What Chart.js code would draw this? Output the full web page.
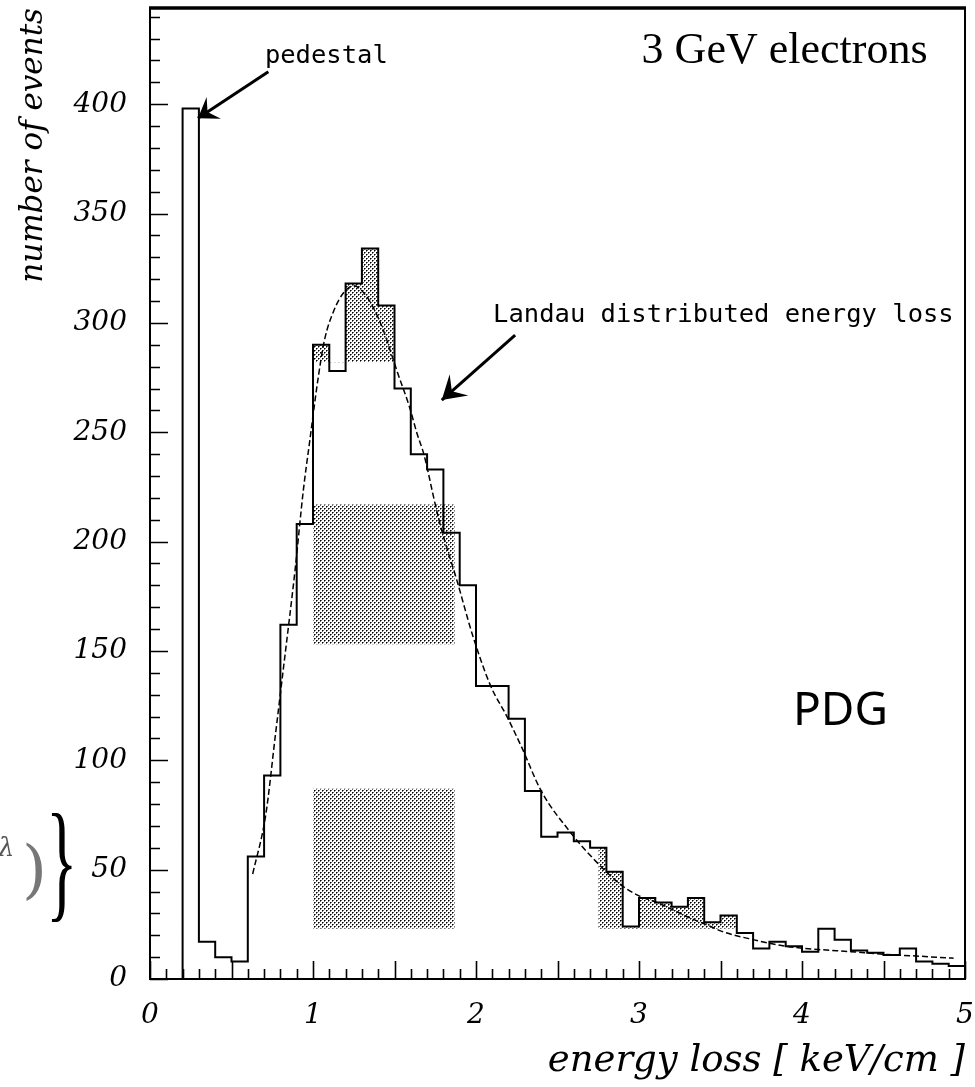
<!DOCTYPE html>
<html>
<head>
<meta charset="utf-8">
<script src="https://cdn.jsdelivr.net/npm/chart.js@4/dist/chart.umd.min.js"></script>
<style>
html,body{margin:0;padding:0;background:#fff;}
canvas{display:block;}
</style>
</head>
<body>
<canvas id="c" width="975" height="1087"></canvas>
<script>
// ---- data ----
const binLow = [0.0,0.1,0.2,0.3,0.4,0.5,0.6,0.7,0.8,0.9,
                1.0,1.1,1.2,1.3,1.4,1.5,1.6,1.7,1.8,1.9,
                2.0,2.1,2.2,2.3,2.4,2.5,2.6,2.7,2.8,2.9,
                3.0,3.1,3.2,3.3,3.4,3.5,3.6,3.7,3.8,3.9,
                4.0,4.1,4.2,4.3,4.4,4.5,4.6,4.7,4.8,4.9];
const counts = [0,0,398,17,10,8,56,93,162,208,
                290,278,318,334,308,270,240,233,204,180,
                134,134,119,86,65,67,63,60,49,24,
                37,35,33,37,26,29,21,14,17,15,
                12.5,23,18,13,12,11,14,8,7,6];
const landauX = [0.63,0.71,0.77,0.82,0.89,0.94,0.98,1.03,1.07,1.13,1.19,1.25,1.32,1.37,1.43,1.48,1.52,1.59,1.64,1.68,
                 1.75,1.79,1.88,1.98,2.09,2.19,2.28,2.40,2.58,2.72,2.89,3.00,3.11,3.31,3.44,3.50,3.70,3.90,4.10,4.30,4.50,4.70,4.93];
const landauY = [48,75,112,143,187,223,246,274,292,306,314,317,313,307,297,286,277,262,249,240,
                 217,205,183,157,134,120,106,86,67,55,43,38,35,28,24,22,18,15,13.5,12.5,11.3,10.5,9.5];
const yTickValues = [0,50,100,150,200,250,300,350,400];
const xTickValues = [0,1,2,3,4,5];
// shaded regions (data units)
const peakShadeX = [1.0,1.5];   const peakShadeLevel = 282;
const midBoxX = [1.0,1.87];     const midBoxY = [153,217];
const lowBoxX = [1.0,1.87];     const lowBoxY = [23,87];
const tailShadeX = [2.75,3.6];  const tailShadeLevel = 23;

const BIN = 0.1, X_MIN = 0, X_MAX = 5, Y_MIN = 0, Y_MAX = 444;

// ---- helpers ----
function stepSegment(x0,x1){
  const pts=[];
  let first=true;
  for(let i=0;i<binLow.length;i++){
    const lo=binLow[i], hi=lo+BIN;
    if(hi<=x0+1e-9 || lo>=x1-1e-9) continue;
    if(first){ pts.push({x:x0, y:counts[i]}); first=false; }
    else { pts.push({x:lo, y:counts[i]}); }
    pts.push({x:Math.min(hi,x1), y:counts[i]});
  }
  return pts;
}
function stepHist(){
  const pts=[{x:binLow[0], y:counts[0]}];
  for(let i=0;i<binLow.length;i++){
    pts.push({x:binLow[i]+BIN, y:counts[i]});
    if(i+1<binLow.length) pts.push({x:binLow[i]+BIN, y:counts[i+1]});
  }
  return pts;
}
const canvas = document.getElementById('c');
const ctx0 = canvas.getContext('2d');
function makePattern(){
  const t=document.createElement('canvas'); t.width=4; t.height=4;
  const g=t.getContext('2d');
  g.fillStyle='#ffffff'; g.fillRect(0,0,4,4);
  g.fillStyle='#6a6a6a';
  g.fillRect(1,0,1,1); g.fillRect(0,1,1,1); g.fillRect(3,2,1,1); g.fillRect(2,3,1,1);
  g.fillStyle='#000000';
  g.fillRect(0,0,1,1); g.fillRect(2,2,1,1);
  return ctx0.createPattern(t,'repeat');
}
const pat = makePattern();
const clear = 'rgba(0,0,0,0)';
function shadeDataset(points, level, order){
  return {data:points, borderColor:clear, borderWidth:1, pointRadius:0, tension:0,
          fill:{target:{value:level}, above:pat, below:clear}, order:order};
}
function boxPoints(bx,by){ return [{x:bx[0],y:by[1]},{x:bx[1],y:by[1]}]; }

function arrow(ctx,x1,y1,x2,y2,L,w){
  ctx.lineWidth=3;
  ctx.beginPath(); ctx.moveTo(x1,y1); ctx.lineTo(x2,y2); ctx.stroke();
  const a=Math.atan2(y2-y1,x2-x1);
  ctx.beginPath();
  ctx.moveTo(x2,y2);
  ctx.lineTo(x2-L*Math.cos(a-w), y2-L*Math.sin(a-w));
  ctx.lineTo(x2-0.5*L*Math.cos(a), y2-0.5*L*Math.sin(a));
  ctx.lineTo(x2-L*Math.cos(a+w), y2-L*Math.sin(a+w));
  ctx.closePath(); ctx.fill();
}

const decor = {
  id:'decor',
  afterDatasetsDraw(chart){
    const {ctx, chartArea:a, scales:{x,y}} = chart;
    ctx.save();
    ctx.strokeStyle='#000'; ctx.fillStyle='#000';
    // inward tick marks
    ctx.lineWidth=1.6;
    ctx.beginPath();
    for(let k=0;k*10<=Y_MAX;k++){
      const v=k*10, py=Math.round(y.getPixelForValue(v))+0.5, len=(v%50===0)?18:10;
      ctx.moveTo(a.left,py); ctx.lineTo(a.left+len,py);
    }
    for(let k=0;k<=50;k++){
      const px=Math.round(x.getPixelForValue(k/10))+0.5, len=(k%5===0)?18:10;
      ctx.moveTo(px,a.bottom); ctx.lineTo(px,a.bottom-len);
    }
    ctx.stroke();
    // frame
    ctx.lineWidth=2;
    ctx.beginPath();
    ctx.moveTo(a.left,a.top); ctx.lineTo(a.left,a.bottom); ctx.lineTo(a.right,a.bottom); ctx.lineTo(a.right,a.top);
    ctx.stroke();
    ctx.lineWidth=3.5;
    ctx.beginPath(); ctx.moveTo(a.left-1,a.top); ctx.lineTo(a.right+1,a.top); ctx.stroke();

    // annotations
    ctx.textBaseline='alphabetic';
    ctx.font='25.5px "DejaVu Sans Mono"';
    ctx.textAlign='left';
    ctx.fillText('pedestal', x.getPixelForValue(0.705), y.getPixelForValue(419));
    ctx.fillText('Landau distributed energy loss', x.getPixelForValue(2.105), y.getPixelForValue(300.5));
    ctx.font='44px "Liberation Serif"';
    ctx.textAlign='right';
    ctx.fillText('3 GeV electrons', x.getPixelForValue(4.77), y.getPixelForValue(419));
    ctx.font='46px "Noto Sans"';
    ctx.textAlign='left';
    ctx.fillText('PDG', x.getPixelForValue(3.945), y.getPixelForValue(116));

    arrow(ctx, x.getPixelForValue(0.726), y.getPixelForValue(414.8), x.getPixelForValue(0.294), y.getPixelForValue(393.6), 23, 0.6);
    arrow(ctx, x.getPixelForValue(2.24), y.getPixelForValue(294.4), x.getPixelForValue(1.79), y.getPixelForValue(264.7), 27, 0.55);

    // left-edge fragments of neighbouring slide text
    ctx.textAlign='left';
    ctx.fillStyle='#555';
    ctx.font='italic 26px "DejaVu Serif"';
    ctx.fillText('\u03bb', -2, 856);
    ctx.fillStyle='#777';
    ctx.font='64px "DejaVu Serif"';
    ctx.fillText(')', 22, 891);
    ctx.fillStyle='#000';
    ctx.save();
    ctx.translate(46,0); ctx.scale(0.5,1);
    ctx.font='131px "Liberation Serif"';
    ctx.fillText('}', 0, 904);
    ctx.restore();
    ctx.restore();
  }
};

function noPad(s){ s.paddingTop=0; s.paddingBottom=0; s.paddingLeft=0; s.paddingRight=0; }

new Chart(canvas, {
  type:'line',
  data:{
    datasets:[
      {data:stepHist(), borderColor:'#000', borderWidth:2, pointRadius:0, fill:false, tension:0, order:0},
      {data:landauX.map((v,i)=>({x:v,y:landauY[i]})), borderColor:'#000', borderWidth:1.5, borderDash:[6,3],
       pointRadius:0, fill:false, cubicInterpolationMode:'monotone', order:1},
      shadeDataset(stepSegment(peakShadeX[0],peakShadeX[1]), peakShadeLevel, 2),
      shadeDataset(boxPoints(midBoxX,midBoxY), midBoxY[0], 3),
      shadeDataset(boxPoints(lowBoxX,lowBoxY), lowBoxY[0], 4),
      shadeDataset(stepSegment(tailShadeX[0],tailShadeX[1]), tailShadeLevel, 5)
    ]
  },
  options:{
    responsive:false, animation:false,
    layout:{padding:{top:8,right:10,left:0,bottom:0}},
    plugins:{legend:{display:false}, tooltip:{enabled:false}},
    scales:{
      x:{type:'linear', min:X_MIN, max:X_MAX,
         afterBuildTicks(s){ s.ticks = xTickValues.map(v=>({value:v})); },
         afterFit(s){ s.height = 108; noPad(s); },
         grid:{display:false, drawTicks:false}, border:{display:false},
         ticks:{color:'#000', padding:20, maxRotation:0, autoSkip:false,
                font:{family:'DejaVu Serif', style:'italic', size:28}},
         title:{display:true, text:'energy loss [ keV/cm ]', align:'end', color:'#000',
                font:{family:'DejaVu Serif', style:'italic', size:37}, padding:{top:0,bottom:3}}},
      y:{type:'linear', min:Y_MIN, max:Y_MAX,
         afterBuildTicks(s){ s.ticks = yTickValues.map(v=>({value:v})); },
         afterFit(s){ s.width = 150; noPad(s); },
         grid:{display:false, drawTicks:false}, border:{display:false},
         ticks:{color:'#000', padding:23, autoSkip:false,
                font:{family:'DejaVu Serif', style:'italic', size:28}},
         title:{display:true, text:'number of events', align:'end', color:'#000',
                font:{family:'DejaVu Serif', style:'italic', size:31}, padding:{top:15,bottom:0}}}
    }
  },
  plugins:[decor]
});
</script>
</body>
</html>
